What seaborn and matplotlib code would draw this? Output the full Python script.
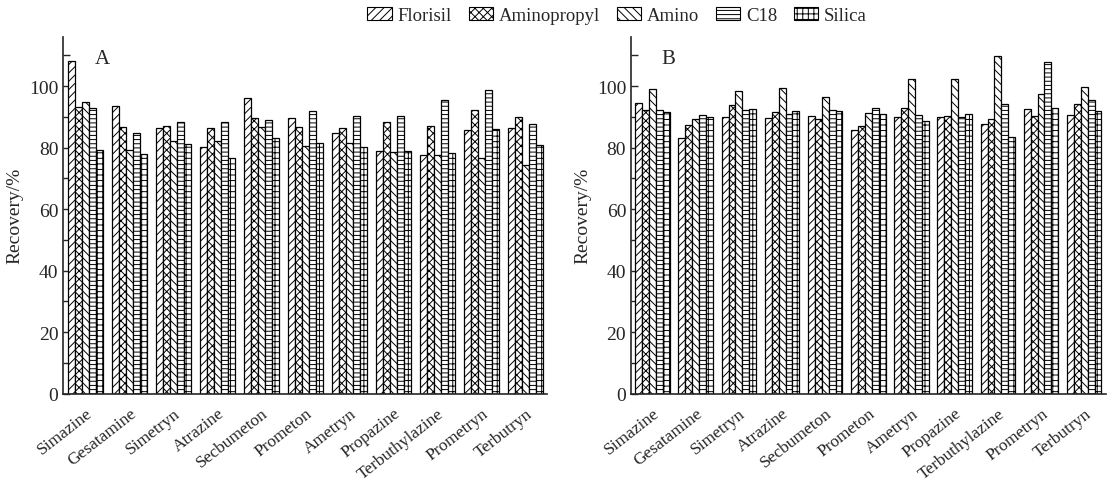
import numpy as np
import pandas as pd
import matplotlib
matplotlib.use("Agg")
import matplotlib.pyplot as plt
from matplotlib.patches import Patch
from matplotlib.ticker import MultipleLocator
from matplotlib import font_manager
import seaborn as sns

compounds = ["Simazine", "Gesatamine", "Simetryn", "Atrazine", "Secbumeton", "Prometon",
             "Ametryn", "Propazine", "Terbuthylazine", "Prometryn", "Terbutryn"]
methods = ["Florisil", "Aminopropyl", "Amino", "C18", "Silica"]

florisil_A = [108.0, 93.6, 86.5, 80.2, 96.2, 89.7, 84.7, 78.8, 77.5, 85.6, 86.4]
aminopropyl_A = [93.3, 86.8, 86.9, 86.4, 89.7, 86.6, 86.4, 88.2, 86.9, 92.3, 90.1]
amino_A = [94.8, 79.1, 82.0, 82.0, 86.8, 80.5, 81.5, 78.6, 77.5, 76.7, 74.3]
c18_A = [93.0, 84.7, 88.2, 88.3, 89.1, 91.8, 90.3, 90.2, 95.5, 98.7, 87.8]
silica_A = [79.1, 77.8, 81.3, 76.5, 83.1, 81.6, 80.3, 78.8, 78.4, 86.0, 80.7]

florisil_B = [94.4, 83.0, 90.1, 89.6, 90.4, 85.6, 90.1, 89.8, 87.7, 92.4, 90.7]
aminopropyl_B = [92.3, 87.5, 93.7, 91.7, 89.2, 87.1, 92.9, 90.3, 89.4, 90.4, 94.3]
amino_B = [99.2, 89.4, 98.4, 99.5, 96.3, 91.3, 102.3, 102.4, 109.7, 97.4, 99.8]
c18_B = [92.3, 90.5, 92.3, 91.0, 92.2, 93.0, 90.7, 89.8, 94.3, 107.8, 95.6]
silica_B = [91.5, 90.0, 92.7, 92.0, 91.8, 91.0, 88.8, 91.0, 83.4, 93.0, 91.8]

hatches = ["////", "xxxx", "\\\\\\\\", "----", "+++"]

sns.set_style("ticks")
names = sorted({f.name for f in font_manager.fontManager.ttflist})
serif = [n for n in names if "Liberation Serif" in n or "Times" in n]
plt.rcParams["font.family"] = serif[:1] + ["DejaVu Serif"]
plt.rcParams["hatch.linewidth"] = 0.7


def long_df(series):
    rows = []
    for m, vals in zip(methods, series):
        for c, v in zip(compounds, vals):
            rows.append({"Compound": c, "Method": m, "Recovery": v})
    return pd.DataFrame(rows)


dfA = long_df([florisil_A, aminopropyl_A, amino_A, c18_A, silica_A])
dfB = long_df([florisil_B, aminopropyl_B, amino_B, c18_B, silica_B])

fig = plt.figure(figsize=(11.08, 4.85), dpi=100)
axA = fig.add_axes([0.057, 0.186, 0.437, 0.736])
axB = fig.add_axes([0.5695, 0.186, 0.4285, 0.736])

for ax, df, lab in [(axA, dfA, "A"), (axB, dfB, "B")]:
    sns.barplot(data=df, x="Compound", y="Recovery", hue="Method", order=compounds,
                hue_order=methods, palette=["white"] * 5, edgecolor="black",
                linewidth=0.9, width=0.8, ax=ax, legend=False)
    for cont, h in zip(ax.containers, hatches):
        for bar in cont:
            bar.set_hatch(h)
    ax.set_xlim(-0.5, len(compounds) - 0.5)
    ax.set_ylim(0, 116)
    ax.yaxis.set_major_locator(MultipleLocator(20))
    ax.yaxis.set_minor_locator(MultipleLocator(10))
    ax.tick_params(axis="y", which="both", direction="in", length=5, width=1, labelsize=14)
    ax.tick_params(axis="x", length=0, labelsize=12.5, pad=8)
    for t in ax.get_xticklabels():
        t.set_rotation(38)
        t.set_ha("right")
        t.set_rotation_mode("anchor")
    ax.set_xlabel("")
    ax.set_ylabel("Recovery/%", fontsize=14)
    sns.despine(ax=ax)
    for s in ["left", "bottom"]:
        ax.spines[s].set_linewidth(1.2)
    ax.text(0.065, 0.94, lab, transform=ax.transAxes, fontsize=15, va="center")

handles = [Patch(facecolor="white", edgecolor="black", hatch=h, label=m, linewidth=0.8)
           for m, h in zip(methods, hatches)]
fig.legend(handles=handles, loc="center", bbox_to_anchor=(0.557, 0.966), ncol=5,
           frameon=False, fontsize=13.5, handlelength=1.3, handleheight=0.7,
           handletextpad=0.3, columnspacing=0.9)

fig.savefig("out.png", dpi=100)
